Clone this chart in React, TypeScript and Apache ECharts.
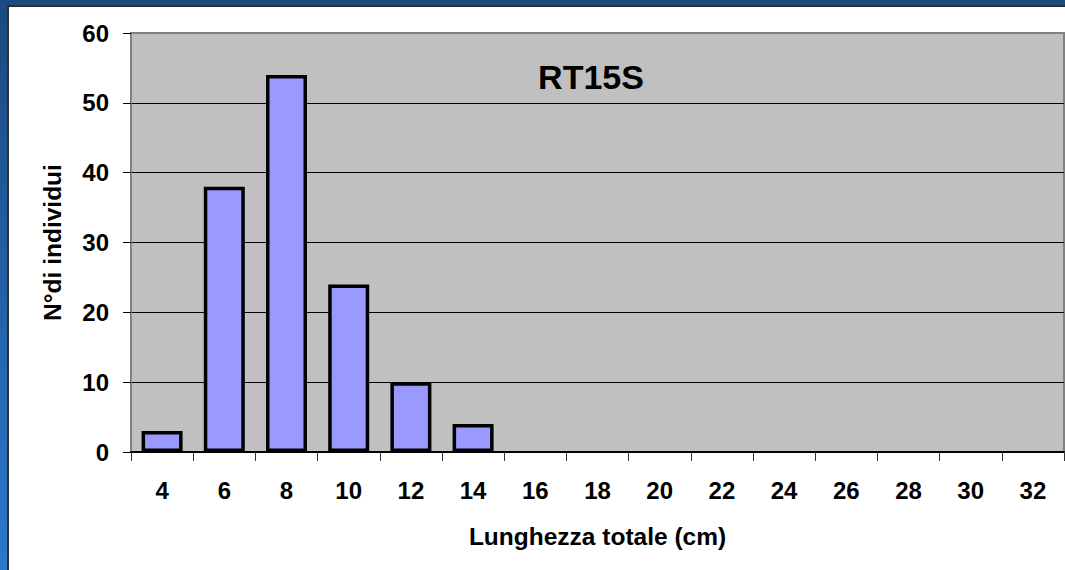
import React, { useEffect, useRef } from "react";
import * as echarts from "echarts";

const categories = ["4", "6", "8", "10", "12", "14", "16", "18", "20", "22", "24", "26", "28", "30", "32"];
const counts = [3, 38, 54, 24, 10, 4, 0, 0, 0, 0, 0, 0, 0, 0, 0];
const yTicks = { min: 0, max: 60, interval: 10 };
const titleText = "RT15S";
const xName = "Lunghezza totale (cm)";
const yName = "N°di individui";

const FONT = "'Liberation Sans', Arial, sans-serif";

export default function App() {
  const ref = useRef<HTMLDivElement>(null);
  useEffect(() => {
    if (!ref.current) return;
    const chart = echarts.init(ref.current, null, { renderer: "svg" });
    chart.setOption({
      animation: false,
      graphic: [
        {
          type: "rect",
          z: -10,
          silent: true,
          shape: { x: 0, y: 0, width: 1065, height: 570 },
          style: {
            fill: new echarts.graphic.LinearGradient(0, 0, 0, 1, [
              { offset: 0, color: "#1B4A7E" },
              { offset: 1, color: "#2C78CC" },
            ]),
          },
        },
        {
          type: "rect",
          z: -9,
          silent: true,
          shape: { x: 7, y: 5, width: 1058, height: 565 },
          style: { fill: "#2a2f38" },
        },
        {
          type: "rect",
          z: -8,
          silent: true,
          shape: { x: 9, y: 7, width: 1056, height: 563 },
          style: { fill: "#ffffff" },
        },
        {
          type: "text",
          z: 10,
          x: 591,
          y: 77,
          style: {
            text: titleText,
            fontSize: 34,
            fontWeight: "bold",
            fontFamily: FONT,
            fill: "#000",
            align: "center",
            verticalAlign: "middle",
          },
        },
      ],
      grid: {
        left: 131,
        right: 1,
        top: 33,
        bottom: 118,
        show: true,
        backgroundColor: "#C0C0C0",
        borderColor: "#808080",
        borderWidth: 2,
      },
      xAxis: {
        type: "category",
        data: categories,
        name: xName,
        nameLocation: "middle",
        nameGap: 72,
        nameTextStyle: { fontSize: 24.5, fontWeight: "bold", fontFamily: FONT, color: "#000" },
        axisLine: { show: true, lineStyle: { color: "#000", width: 2 } },
        axisTick: { show: true, length: 9, interval: 0, lineStyle: { color: "#333", width: 1 } },
        axisLabel: { interval: 0, margin: 26, fontSize: 24, fontWeight: "bold", fontFamily: FONT, color: "#000" },
        splitLine: { show: false },
      },
      yAxis: {
        type: "value",
        min: yTicks.min,
        max: yTicks.max,
        interval: yTicks.interval,
        name: yName,
        nameLocation: "middle",
        nameGap: 66,
        nameRotate: 90,
        nameTextStyle: { fontSize: 24.5, fontWeight: "bold", fontFamily: FONT, color: "#000" },
        axisLine: { show: true, lineStyle: { color: "#808080", width: 2 } },
        axisTick: { show: true, length: 8, lineStyle: { color: "#000", width: 1 } },
        axisLabel: { margin: 22, fontSize: 24, fontWeight: "bold", fontFamily: FONT, color: "#000" },
        splitLine: {
          show: true,
          lineStyle: { color: ["#000", "#000", "#000", "#000", "#000", "#000", "#808080"], width: 1 },
        },
      },
      series: [
        {
          type: "bar",
          data: counts.map((v) => (v === 0 ? null : v)),
          barWidth: 41,
          itemStyle: { color: "#9999FF", borderColor: "#000", borderWidth: 3.5 },
        },
      ],
    });
    return () => chart.dispose();
  }, []);
  return (
    <div
      ref={ref}
      style={{ position: "absolute", left: 0, top: 0, width: 1065, height: 570 }}
    />
  );
}
